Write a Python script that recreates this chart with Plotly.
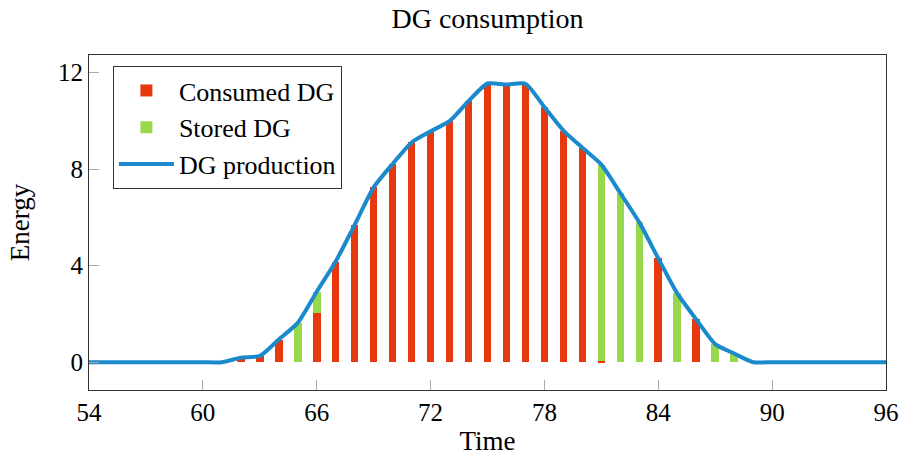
import plotly.graph_objects as go

# ---- data ----
hours = [54, 55, 56, 57, 58, 59, 60, 61, 62, 63, 64, 65, 66, 67, 68, 69, 70, 71, 72, 73, 74, 75,
         76, 77, 78, 79, 80, 81, 82, 83, 84, 85, 86, 87, 88, 89, 90, 91, 92, 93, 94, 95, 96]
production = [0, 0, 0, 0, 0, 0, 0, 0, 0.19, 0.26, 0.94, 1.63, 2.92, 4.17, 5.69, 7.24, 8.21, 9.1,
              9.56, 9.98, 10.81, 11.54, 11.5, 11.53, 10.56, 9.59, 8.88, 8.18, 7.0, 5.79, 4.3,
              2.85, 1.77, 0.75, 0.36, 0, 0, 0, 0, 0, 0, 0, 0]

bar_hours = [62, 63, 64, 65, 66, 67, 68, 69, 70, 71, 72, 73, 74, 75, 76, 77, 78, 79, 80, 81, 82,
             83, 84, 85, 86, 87, 88]
consumed = [0.19, 0.26, 0.94, 0, 2.02, 4.17, 5.69, 7.24, 8.21, 9.1, 9.56, 9.98, 10.81, 11.54,
            11.5, 11.53, 10.56, 9.59, 8.88, 0.06, 0, 0, 4.3, 0, 1.77, 0, 0]
stored = [0, 0, 0, 1.63, 0.9, 0, 0, 0, 0, 0, 0, 0, 0, 0, 0, 0, 0, 0, 0, 8.12, 7.0, 5.79, 0, 2.85,
          0, 0.75, 0.36]

x_ticks = [54, 60, 66, 72, 78, 84, 90, 96]
y_ticks = [0, 4, 8, 12]

RED = "#E8380D"
GREEN = "#97D84C"
BLUE = "#1A8ACD"
FONT = "Liberation Serif"

fig = go.Figure()
fig.add_trace(go.Bar(x=bar_hours, y=consumed, name="Consumed DG", marker_color=RED,
                     marker_line_width=0, width=0.4))
fig.add_trace(go.Bar(x=bar_hours, y=stored, name="Stored DG", marker_color=GREEN,
                     marker_line_width=0, width=0.4))
fig.add_trace(go.Scatter(x=hours, y=production, name="DG production", mode="lines",
                         line=dict(color=BLUE, width=4, shape="spline", smoothing=0.6)))

axis_common = dict(showline=True, linecolor="#333333", linewidth=1, mirror=True,
                   ticks="inside", ticklen=10, tickcolor="#aaaaaa", tickwidth=1,
                   showgrid=False, zeroline=False, automargin=False,
                   tickfont=dict(family=FONT, size=25, color="black"))

fig.update_layout(
    width=902, height=457,
    margin=dict(l=89, r=16, t=55, b=67),
    plot_bgcolor="white", paper_bgcolor="white",
    barmode="stack", bargap=0,
    title=dict(text="DG consumption", x=0.5405, xanchor="center", y=0.961, yref="container",
               yanchor="middle", font=dict(family=FONT, size=28, color="black")),
    xaxis=dict(range=[54, 96], tickvals=x_ticks, ticktext=[str(v) for v in x_ticks],
               title=dict(text="Time", font=dict(family=FONT, size=27, color="black"), standoff=6),
               **axis_common),
    yaxis=dict(range=[-1.15, 12.72], tickvals=y_ticks, ticktext=[str(v) for v in y_ticks],
               title=dict(text="Energy", font=dict(family=FONT, size=27, color="black"), standoff=20),
               **axis_common),
    legend=dict(x=0.03, y=0.967, xanchor="left", yanchor="top", bgcolor="white",
                bordercolor="#333333", borderwidth=1, traceorder="normal",
                font=dict(family=FONT, size=26, color="black"), itemwidth=55),
    showlegend=True,
)

fig.write_html("out.html", config={"displayModeBar": False},
               post_script="document.body.style.margin='0';document.body.style.overflow='hidden';")
